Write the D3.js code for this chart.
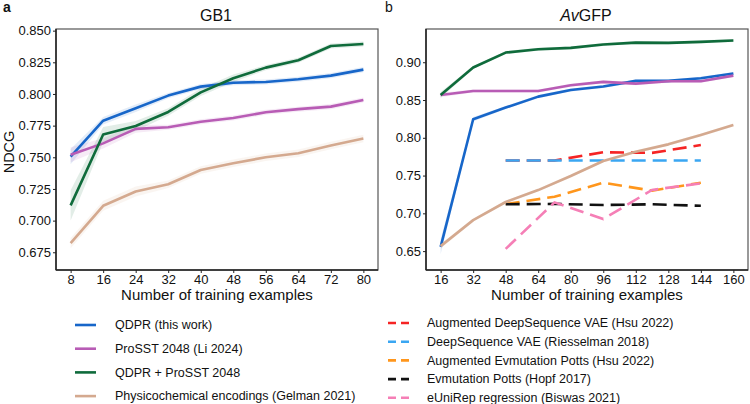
<!DOCTYPE html>
<html>
<head>
<meta charset="utf-8">
<script src="https://cdn.jsdelivr.net/npm/d3@7"></script>
<style>
  body { margin: 0; background: #fff; }
  text { font-family: "Liberation Sans", Arial, sans-serif; fill: #111; }
</style>
</head>
<body>
<div id="chart"></div>
<script>
// GB1 panel data
var gb1X = [8, 16, 24, 32, 40, 48, 56, 64, 72, 80];
var gb1Qdpr   = [0.7505, 0.7789, 0.7887, 0.7987, 0.8058, 0.8089, 0.8095, 0.8116, 0.8145, 0.8192];
var gb1ProSST = [0.7520, 0.7610, 0.7724, 0.7737, 0.7780, 0.7810, 0.7855, 0.7880, 0.7900, 0.7953];
var gb1Combo  = [0.7120, 0.7680, 0.7747, 0.7858, 0.8013, 0.8124, 0.8208, 0.8266, 0.8379, 0.8395];
var gb1Phys   = [0.6822, 0.7117, 0.7230, 0.7287, 0.7400, 0.7453, 0.7500, 0.7532, 0.7593, 0.7648];
// ribbon half-widths
var gb1QdprErr   = [0.006, 0.003, 0.003, 0.002, 0.002, 0.002, 0.002, 0.002, 0.002, 0.002];
var gb1ProSSTErr = [0.006, 0.004, 0.003, 0.002, 0.002, 0.002, 0.002, 0.002, 0.002, 0.002];
var gb1ComboErr  = [0.012, 0.006, 0.004, 0.003, 0.003, 0.003, 0.002, 0.002, 0.002, 0.002];
var gb1PhysErr   = [0.004, 0.004, 0.004, 0.003, 0.003, 0.003, 0.003, 0.003, 0.003, 0.003];

// avGFP panel data
var gfpX = [16, 32, 48, 64, 80, 96, 112, 128, 144, 160];
var gfpQdpr   = [0.6557, 0.8245, 0.8400, 0.8545, 0.8633, 0.8678, 0.8753, 0.8753, 0.8788, 0.8850];
var gfpProSST = [0.8567, 0.8620, 0.8620, 0.8620, 0.8695, 0.8740, 0.8717, 0.8748, 0.8748, 0.8823];
var gfpCombo  = [0.8567, 0.8930, 0.9128, 0.9172, 0.9190, 0.9234, 0.9260, 0.9256, 0.9270, 0.9287];
var gfpPhys   = [0.6566, 0.6910, 0.7150, 0.7308, 0.7494, 0.7693, 0.7816, 0.7913, 0.8037, 0.8170];
var gfpQdprErr   = [0.010, 0.003, 0.002, 0.002, 0.002, 0.002, 0.002, 0.002, 0.002, 0.002];
var gfpProSSTErr = [0.003, 0.002, 0.002, 0.002, 0.002, 0.002, 0.002, 0.002, 0.002, 0.002];
var gfpComboErr  = [0.004, 0.002, 0.002, 0.002, 0.002, 0.002, 0.002, 0.002, 0.002, 0.002];
var gfpPhysErr   = [0.003, 0.002, 0.002, 0.002, 0.002, 0.002, 0.002, 0.002, 0.002, 0.002];

// baselines (dashed) on avGFP
var baseX = [48, 72, 96, 120, 144];
var augDeepSeq = [0.770, 0.770, 0.7808, 0.780, 0.7904];
var deepSeq    = [0.770, 0.770, 0.770, 0.770, 0.770];
var augEvmut   = [0.7123, 0.722, 0.7405, 0.730, 0.7405];
var evmut      = [0.712, 0.7125, 0.711, 0.712, 0.710];
var eUniRep    = [0.653, 0.7145, 0.6924, 0.731, 0.7397];

var solidNames = ["QDPR (this work)", "ProSST 2048 (Li 2024)", "QDPR + ProSST 2048", "Physicochemical encodings (Gelman 2021)"];
var solidColors = ["#1766c9", "#b85cb5", "#0f6b3b", "#d4a98f"];
var dashNames = ["Augmented DeepSequence VAE (Hsu 2022)", "DeepSequence VAE (Riesselman 2018)", "Augmented Evmutation Potts (Hsu 2022)", "Evmutation Potts (Hopf 2017)", "eUniRep regression (Biswas 2021)"];
var dashColors = ["#f52424", "#3aa6f2", "#ff961c", "#111111", "#f57fb6"];

var W = 750, H = 404;
var svg = d3.select("#chart").append("svg")
    .attr("width", W).attr("height", H);

function panel(opts) {
    var x = d3.scaleLinear().domain(opts.xDomain).range([opts.left, opts.right]);
    var y = d3.scaleLinear().domain(opts.yDomain).range([opts.bottom, opts.top]);
    var g = svg.append("g");

    var area = d3.area()
        .x(function(d) { return x(d[0]); })
        .y0(function(d) { return y(d[1] - d[2]); })
        .y1(function(d) { return y(d[1] + d[2]); });
    var line = d3.line()
        .x(function(d) { return x(d[0]); })
        .y(function(d) { return y(d[1]); });

    opts.solid.forEach(function(s, i) {
        var pts = opts.xs.map(function(v, j) { return [v, s.vals[j], s.err[j]]; });
        g.append("path").attr("d", area(pts))
            .attr("fill", solidColors[i]).attr("fill-opacity", 0.12);
    });

    // dashed baselines
    (opts.dashed || []).forEach(function(s) {
        var pts = baseX.map(function(v, j) { return [v, s.vals[j]]; });
        g.append("path").attr("d", line(pts))
            .attr("fill", "none").attr("stroke", dashColors[s.c])
            .attr("stroke-width", 2.6).attr("stroke-dasharray", "14,7");
    });

    opts.solid.forEach(function(s, i) {
        var pts = opts.xs.map(function(v, j) { return [v, s.vals[j]]; });
        g.append("path").attr("d", line(pts))
            .attr("fill", "none").attr("stroke", solidColors[i])
            .attr("stroke-width", 2.6).attr("stroke-linejoin", "round");
    });

    // frame
    g.append("rect")
        .attr("x", opts.left).attr("y", opts.top)
        .attr("width", opts.right - opts.left).attr("height", opts.bottom - opts.top)
        .attr("fill", "none").attr("stroke", "#555").attr("stroke-width", 1.2);
    g.append("line").attr("x1", opts.left).attr("x2", opts.left)
        .attr("y1", opts.top).attr("y2", opts.bottom)
        .attr("stroke", "#222").attr("stroke-width", 1.5);
    g.append("line").attr("x1", opts.left).attr("x2", opts.right)
        .attr("y1", opts.bottom).attr("y2", opts.bottom)
        .attr("stroke", "#222").attr("stroke-width", 1.5);

    var ya = g.append("g").attr("transform", "translate(" + opts.left + ",0)")
        .call(d3.axisLeft(y).tickValues(opts.yTicks).tickFormat(d3.format(opts.yFmt)).tickSize(3).tickPadding(2));
    var xa = g.append("g").attr("transform", "translate(0," + opts.bottom + ")")
        .call(d3.axisBottom(x).tickValues(opts.xs).tickSize(3).tickPadding(2));
    [ya, xa].forEach(function(a) {
        a.select(".domain").remove();
        a.selectAll("text").style("font-size", "13px").attr("fill", "#111")
            .style("font-family", "Liberation Sans, Arial, sans-serif");
        a.selectAll("line").attr("stroke", "#222");
    });

    var title = g.append("text")
        .attr("x", (opts.left + opts.right) / 2 - 1).attr("y", 21)
        .attr("text-anchor", "middle").style("font-size", "16px");
    if (opts.titleItalic) title.append("tspan").style("font-style", "italic").text(opts.titleItalic);
    title.append("tspan").text(opts.title);

    g.append("text")
        .attr("x", (opts.left + opts.right) / 2).attr("y", 300)
        .attr("text-anchor", "middle").style("font-size", "15px")
        .text("Number of training examples");
}

panel({
    left: 56, right: 378, top: 29, bottom: 270,
    xDomain: [4.4, 83.6], yDomain: [0.661, 0.8513],
    xs: gb1X,
    yTicks: [0.675, 0.700, 0.725, 0.750, 0.775, 0.800, 0.825, 0.850], yFmt: ".3f",
    title: "GB1",
    solid: [
        {vals: gb1Qdpr, err: gb1QdprErr},
        {vals: gb1ProSST, err: gb1ProSSTErr},
        {vals: gb1Combo, err: gb1ComboErr},
        {vals: gb1Phys, err: gb1PhysErr}
    ]
});

panel({
    left: 426, right: 748, top: 29, bottom: 270,
    xDomain: [8.8, 167.2], yDomain: [0.625, 0.944],
    xs: gfpX,
    yTicks: [0.65, 0.70, 0.75, 0.80, 0.85, 0.90], yFmt: ".2f",
    titleItalic: "Av", title: "GFP",
    dashed: [
        {vals: augDeepSeq, c: 0},
        {vals: deepSeq, c: 1},
        {vals: augEvmut, c: 2},
        {vals: evmut, c: 3},
        {vals: eUniRep, c: 4}
    ],
    solid: [
        {vals: gfpQdpr, err: gfpQdprErr},
        {vals: gfpProSST, err: gfpProSSTErr},
        {vals: gfpCombo, err: gfpComboErr},
        {vals: gfpPhys, err: gfpPhysErr}
    ]
});

// y label + panel letters
svg.append("text").attr("transform", "translate(14,152) rotate(-90)")
    .attr("text-anchor", "middle").style("font-size", "14.5px").text("NDCG");
svg.append("text").attr("x", 3).attr("y", 12).style("font-size", "14px")
    .style("font-weight", "bold").text("a");
svg.append("text").attr("x", 385).attr("y", 12).style("font-size", "14px").text("b");

// legends
var leg1 = svg.append("g");
solidNames.forEach(function(n, i) {
    var yy = 325 + i * 23.7;
    leg1.append("line").attr("x1", 75).attr("x2", 96).attr("y1", yy).attr("y2", yy)
        .attr("stroke", solidColors[i]).attr("stroke-width", 2.6);
    leg1.append("text").attr("x", 115).attr("y", yy).attr("dy", "0.35em")
        .style("font-size", "12.5px").text(n);
});
var leg2 = svg.append("g");
dashNames.forEach(function(n, i) {
    var yy = 323 + i * 18.7;
    leg2.append("line").attr("x1", 388).attr("x2", 409).attr("y1", yy).attr("y2", yy)
        .attr("stroke", dashColors[i]).attr("stroke-width", 2.6).attr("stroke-dasharray", "8,5");
    leg2.append("text").attr("x", 427).attr("y", yy).attr("dy", "0.35em")
        .style("font-size", "12.5px").text(n);
});
</script>
</body>
</html>
